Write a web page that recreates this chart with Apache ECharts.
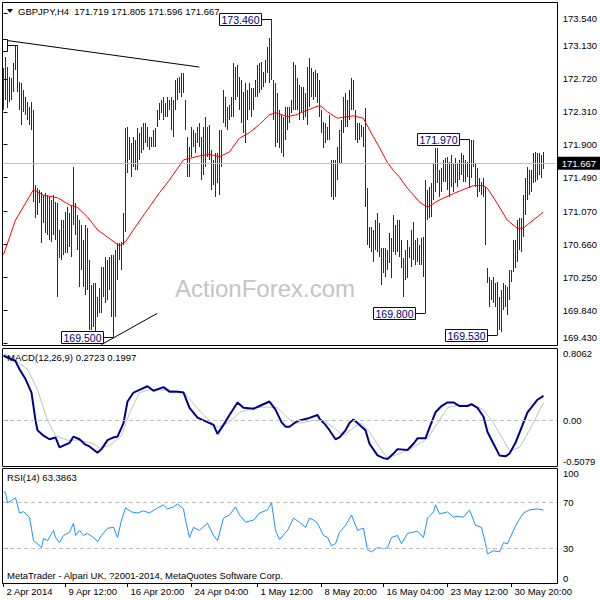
<!DOCTYPE html>
<html><head><meta charset="utf-8">
<script src="https://cdn.jsdelivr.net/npm/echarts@6/dist/echarts.min.js"></script>
<style>html,body{margin:0;padding:0;background:#fff}#c{width:600px;height:600px}</style>
</head><body><div id="c"></div>
<script>
const symbol = 'GBPJPY,H4';
const quote = [171.719, 171.805, 171.596, 171.667];
const lastPrice = 171.667;
const macdNow = [0.2723, 0.1997];
const rsiNow = 63.3863;

const highs = [
172.86,172.99,172.87,172.74,172.73,172.92,173.14,173.14,172.68,172.67,
172.58,172.49,172.43,172.37,172.43,172.33,171.40,171.36,171.34,171.31,
171.27,171.30,171.27,171.25,171.21,171.27,171.19,171.17,170.84,170.96,
170.96,171.06,171.12,171.05,171.15,171.62,171.17,171.02,170.96,170.90,
170.71,170.90,170.86,170.46,170.15,170.18,170.18,170.00,170.11,170.38,
170.38,170.50,170.46,170.50,170.53,170.53,170.59,170.67,170.67,170.69,
171.05,172.11,172.12,172.00,171.92,172.00,171.96,172.11,172.05,172.12,
172.17,172.17,172.12,172.00,172.00,172.08,172.11,172.33,172.42,172.46,
172.49,172.42,172.49,172.46,172.49,172.46,172.71,172.73,172.74,172.79,
172.79,172.46,172.00,171.87,172.12,172.08,172.05,172.12,172.17,172.00,
172.12,172.25,172.12,172.15,171.83,171.71,171.80,171.80,172.08,172.08,
172.58,172.49,172.37,172.39,172.49,172.92,172.87,172.89,172.74,172.71,
172.56,172.67,172.58,172.67,172.61,172.61,172.71,172.89,172.92,172.93,
172.81,172.95,173.12,173.23,173.46,172.71,172.67,172.54,172.33,172.27,
172.25,172.37,172.37,172.37,172.46,172.93,172.89,172.73,172.64,172.62,
172.62,172.54,172.87,172.98,172.86,172.81,172.83,172.79,172.71,172.33,
172.18,172.17,172.12,172.27,171.71,171.71,171.71,171.87,172.08,172.21,
172.49,172.54,172.46,172.58,172.73,172.71,172.33,172.17,172.17,172.15,
172.12,172.36,171.36,170.87,170.87,170.84,170.96,171.05,170.92,170.61,
170.61,170.61,170.59,170.80,170.74,171.02,170.90,170.96,170.96,170.71,
170.49,170.59,170.71,170.63,170.84,170.94,170.71,170.74,170.65,170.74,
170.75,171.46,171.34,171.37,171.42,171.67,171.86,171.86,171.58,171.61,
171.71,171.73,171.75,171.68,171.77,171.67,171.73,171.67,171.71,171.80,
171.77,171.71,171.68,171.97,171.96,171.96,171.67,171.61,171.49,171.44,
171.49,171.37,170.37,170.25,170.22,170.25,170.18,170.19,170.00,170.09,
170.18,170.15,170.13,170.34,170.34,170.71,170.71,170.96,170.99,170.99,
171.27,171.49,171.62,171.58,171.58,171.80,171.81,171.80,171.80,171.77,171.805
];
const lows = [
172.33,172.46,172.36,172.43,172.46,172.56,172.83,172.56,172.33,172.15,
172.31,172.27,172.21,172.15,172.08,171.19,170.99,171.02,171.17,170.67,
170.92,170.80,170.78,170.71,170.69,170.78,170.71,170.00,170.49,170.46,
170.53,170.55,170.55,170.63,170.50,170.90,170.78,170.59,170.13,170.34,
170.13,170.03,170.09,169.59,169.59,169.63,169.55,169.75,169.80,169.80,
170.00,169.93,169.97,170.09,169.75,169.50,169.75,170.22,170.46,170.34,
170.65,170.81,171.55,171.71,171.50,171.62,171.58,171.58,171.71,171.80,
171.83,171.92,171.87,171.83,171.87,171.87,171.87,172.12,172.21,172.30,
172.21,172.25,172.25,172.33,172.08,172.00,172.33,172.46,172.54,172.49,
172.54,172.08,171.50,171.50,171.75,171.87,171.80,171.92,171.87,171.46,
171.52,171.62,171.75,171.71,171.34,171.40,171.25,171.42,171.27,171.62,
172.17,172.12,172.08,172.21,172.25,172.25,172.46,172.49,172.33,172.17,
172.05,171.92,172.21,172.33,172.25,172.33,172.49,172.49,172.54,172.58,
172.62,172.67,172.79,172.67,172.71,172.21,171.87,171.92,171.86,171.80,
171.75,171.96,172.08,172.17,172.30,172.33,172.33,172.33,172.21,172.30,
172.21,172.25,172.15,172.37,172.49,172.46,172.49,172.42,172.25,172.05,
171.86,171.92,171.96,171.96,171.25,171.21,171.25,171.46,171.67,171.67,
172.05,172.12,172.12,172.21,172.33,172.33,171.96,171.92,171.96,172.00,
171.87,171.12,170.65,170.61,170.56,170.44,170.59,170.56,170.50,170.15,
170.30,170.25,170.34,170.43,170.24,170.56,170.53,170.56,170.50,170.37,
170.00,170.22,170.24,170.49,170.38,170.46,170.40,170.44,170.40,170.40,
170.25,169.80,170.96,170.99,171.00,171.21,171.31,171.42,171.25,171.31,
171.44,171.44,171.34,171.25,171.37,171.31,171.42,171.37,171.46,171.52,
171.44,171.44,171.50,171.36,171.49,171.62,171.37,171.25,171.31,171.27,
171.25,170.65,170.18,169.88,169.97,169.93,169.88,169.53,169.59,169.57,
169.84,169.88,169.78,169.97,170.19,170.32,170.37,170.44,170.59,170.56,
170.75,171.02,171.21,171.27,171.31,171.42,171.44,171.46,171.52,171.49,171.596
];

const maPts = [[0,170.53],[6,170.96],[15,171.34],[20,171.27],[27,171.24],[33,171.15],[37,171.12],[42,171.00],[47,170.84],[52,170.75],[58,170.64],[61,170.69],[65,170.84],[72,171.09],[78,171.30],[83,171.46],[90,171.71],[98,171.76],[103,171.78],[108,171.75],[113,171.81],[118,171.98],[123,172.05],[128,172.15],[133,172.27],[136,172.30],[142,172.25],[146,172.27],[152,172.33],[157,172.38],[159,172.38],[162,172.31],[167,172.23],[172,172.25],[175,172.26],[180,172.23],[185,172.00],[188,171.87],[192,171.68],[195,171.58],[198,171.50],[202,171.36],[208,171.19],[212,171.12],[218,171.21],[225,171.29],[235,171.39],[240,171.39],[242,171.36],[247,171.17],[252,170.96],[257,170.86],[260,170.86],[265,170.96],[270,171.06]];

const macdPts = [[0,0.72],[2,0.70],[6,0.66],[8,0.57],[11,0.46],[14,0.31],[16,0.00],[17,-0.11],[20,-0.17],[23,-0.21],[26,-0.19],[28,-0.30],[31,-0.27],[33,-0.25],[35,-0.18],[38,-0.21],[41,-0.27],[43,-0.29],[47,-0.36],[49,-0.32],[52,-0.22],[55,-0.19],[57,-0.18],[60,-0.03],[62,0.21],[65,0.31],[68,0.34],[72,0.38],[75,0.33],[80,0.37],[83,0.32],[87,0.32],[90,0.31],[93,0.14],[97,0.03],[100,0.00],[105,-0.05],[107,-0.15],[110,-0.05],[113,0.06],[117,0.20],[120,0.14],[125,0.13],[128,0.16],[133,0.21],[136,0.12],[139,-0.02],[141,-0.07],[143,-0.07],[146,-0.02],[148,0.00],[152,0.02],[157,0.06],[158,0.02],[161,-0.05],[163,-0.11],[166,-0.21],[168,-0.19],[171,-0.11],[173,-0.03],[175,0.01],[177,-0.03],[181,-0.11],[183,-0.26],[187,-0.39],[190,-0.42],[192,-0.43],[195,-0.37],[197,-0.32],[202,-0.33],[205,-0.26],[207,-0.20],[211,-0.20],[213,-0.08],[216,0.09],[219,0.16],[222,0.20],[225,0.20],[228,0.16],[232,0.16],[234,0.18],[237,0.14],[240,0.04],[242,-0.13],[245,-0.26],[248,-0.39],[251,-0.40],[253,-0.37],[256,-0.25],[259,-0.08],[262,0.09],[267,0.23],[270,0.2723]];

const signalPts = [[0,0.74],[3,0.72],[12,0.57],[17,0.34],[22,0.00],[26,-0.17],[32,-0.22],[38,-0.22],[45,-0.26],[48,-0.31],[53,-0.28],[59,-0.17],[63,0.08],[68,0.31],[73,0.34],[82,0.34],[90,0.32],[94,0.21],[100,0.06],[107,-0.08],[113,-0.02],[118,0.09],[125,0.14],[132,0.15],[137,0.14],[142,0.03],[145,-0.03],[148,-0.03],[155,0.00],[160,0.00],[165,-0.08],[170,-0.17],[175,-0.08],[179,-0.03],[183,-0.13],[188,-0.30],[192,-0.42],[198,-0.37],[205,-0.30],[212,-0.20],[217,-0.03],[222,0.14],[227,0.17],[235,0.17],[240,0.12],[245,-0.03],[250,-0.22],[253,-0.34],[258,-0.30],[263,-0.11],[270,0.1997]];

const rsiPts = [[0,79.6],[1,78.7],[2,69.8],[4,71.6],[6,74.2],[8,60.9],[10,62.0],[13,57.3],[15,36.9],[17,34.2],[19,30.7],[20,38.7],[22,36.9],[25,45.8],[26,39.6],[28,35.1],[30,41.3],[33,44.0],[35,52.0],[36,41.3],[38,45.8],[40,41.3],[42,43.1],[45,39.6],[47,36.0],[49,41.3],[52,47.6],[55,48.4],[57,39.6],[59,54.7],[61,65.3],[64,61.8],[67,60.9],[70,62.7],[73,60.9],[77,65.3],[80,68.0],[82,64.4],[85,66.2],[87,68.9],[90,64.4],[91,54.7],[93,39.6],[95,48.4],[98,45.8],[102,52.0],[105,41.3],[107,36.9],[110,56.4],[113,59.1],[116,66.2],[118,59.1],[121,52.9],[125,54.7],[128,60.9],[132,63.6],[134,69.8],[136,45.8],[138,37.8],[142,45.8],[145,56.4],[148,52.9],[151,48.4],[153,56.4],[155,54.7],[157,52.0],[160,41.3],[162,39.6],[164,32.4],[166,34.2],[168,44.0],[171,50.2],[174,59.1],[175,54.7],[177,45.8],[180,47.6],[182,28.9],[184,27.1],[187,30.7],[190,29.8],[192,30.7],[194,39.6],[197,41.3],[199,34.2],[202,43.1],[204,44.0],[207,45.0],[210,39.6],[212,56.4],[215,61.8],[216,68.0],[218,60.0],[222,61.8],[225,57.3],[227,58.0],[230,57.3],[233,63.6],[236,50.2],[239,48.4],[241,34.2],[242,25.3],[245,28.0],[248,27.1],[250,35.1],[252,34.0],[255,45.8],[257,52.9],[260,60.9],[263,63.6],[267,64.4],[270,63.3863]];

const priceTicks = [169.430,169.840,170.250,170.660,171.070,171.490,171.900,172.310,172.720,173.130,173.540];
const macdTicks = [-0.5079, 0, 0.8062];
const rsiTicks = [0, 30, 70, 100];
const rsiLevels = [30, 70];
const dateTickBars = [0,31,62,94,127,159,190,222,254];
const dateTickLabels = ['2 Apr 2014','9 Apr 12:00','16 Apr 20:00','24 Apr 04:00','1 May 12:00','8 May 20:00','16 May 04:00','23 May 12:00','30 May 20:00'];
const swingBars = [7, 55, 134, 211, 233, 247];
const swingPrices = [173.14, 169.50, 173.46, 169.80, 171.97, 169.53];
const swingLabels = ['','169.500','173.460','169.800','171.970','169.530'];
const trendUpper = [[0,173.204],[98,172.867]];
const trendLower = [[49,169.41],[77,169.80]];

const F = 'Liberation Sans';
const FS = 9.5;
const chart = echarts.init(document.getElementById('c'), null, {renderer: 'svg'});

const xAx = k => ({
  type: 'value', gridIndex: k, min: -0.25, max: 276.75,
  axisLine: {show: false}, splitLine: {show: false},
  axisTick: {show: k === 2, customValues: dateTickBars, length: 4, lineStyle: {color: '#000'}},
  axisLabel: {show: k === 2, customValues: dateTickBars, interval: 0, align: 'left', margin: 3,
    padding: [0,0,0,3], color: '#000', fontFamily: F, fontSize: FS,
    formatter: v => { const j = dateTickBars.indexOf(Math.round(v)); return j >= 0 ? dateTickLabels[j] : ''; }}
});
const yAx = (k, min, max, ticks, fmt) => ({
  type: 'value', gridIndex: k, position: 'right', min: min, max: max,
  axisLine: {show: false}, splitLine: {show: false},
  axisTick: {show: true, customValues: ticks, length: 4, lineStyle: {color: '#000'}},
  axisLabel: {customValues: ticks, margin: 6, color: '#000', fontFamily: F, fontSize: FS,
    formatter: fmt, verticalAlignMaxLabel: 'top', verticalAlignMinLabel: 'bottom'}
});
const dashed = (k, vals) => ({
  type: 'line', xAxisIndex: k, yAxisIndex: k, data: [], silent: true,
  markLine: {silent: true, symbol: ['none','none'], animation: false, label: {show: false},
    lineStyle: {color: '#c0c0c0', type: [4, 3], width: 1},
    data: vals.map(v => ({yAxis: v}))}
});

chart.setOption({
  animation: false,
  backgroundColor: '#fff',
  grid: [
    {left: 3, top: 3, width: 554, height: 342},
    {left: 3, top: 348, width: 554, height: 118},
    {left: 3, top: 468, width: 554, height: 115}
  ],
  xAxis: [xAx(0), xAx(1), xAx(2)],
  yAxis: [
    yAx(0, 169.405, 173.665, priceTicks, v => v.toFixed(3)),
    yAx(1, -0.5079, 0.8062, macdTicks, v => Math.abs(v) < 1e-9 ? '0.00' : v.toFixed(4)),
    yAx(2, 0, 100, rsiTicks, v => String(v))
  ],
  series: [
    {
      type: 'line', xAxisIndex: 0, yAxisIndex: 0, data: [], silent: true, z: 1,
      markLine: {silent: true, symbol: ['none','none'], animation: false,
        lineStyle: {color: '#c0c0c0', type: 'solid', width: 1},
        label: {show: true, position: 'end', distance: 1, formatter: lastPrice.toFixed(3),
          backgroundColor: '#000', color: '#fff', padding: [2,4,1,4], fontFamily: F, fontSize: FS},
        data: [{yAxis: lastPrice}]}
    },
    {
      type: 'custom', xAxisIndex: 0, yAxisIndex: 0, z: 2, silent: true, clip: true,
      data: highs.map((h, i) => [i, h, lows[i]]),
      encode: {x: 0, y: [1, 2]},
      renderItem: (p, api) => {
        const a = api.coord([api.value(0), api.value(1)]);
        const b = api.coord([api.value(0), api.value(2)]);
        const x = Math.floor(a[0]) + 0.5;
        return {type: 'line', shape: {x1: x, y1: Math.round(a[1]), x2: x, y2: Math.round(b[1])},
          style: {stroke: '#0e3552', lineWidth: 1}};
      }
    },
    {type: 'line', xAxisIndex: 0, yAxisIndex: 0, data: maPts, symbol: 'none', z: 3,
      lineStyle: {color: '#ff0000', width: 1}},
    {type: 'line', xAxisIndex: 0, yAxisIndex: 0, data: trendUpper, symbol: 'none', z: 3,
      lineStyle: {color: '#000', width: 1}},
    {type: 'line', xAxisIndex: 0, yAxisIndex: 0, data: trendLower, symbol: 'none', z: 3,
      lineStyle: {color: '#000', width: 1}},
    {
      type: 'custom', xAxisIndex: 0, yAxisIndex: 0, z: 4, silent: true, clip: true,
      data: swingBars.map((b, i) => [b, swingPrices[i]]),
      renderItem: (p, api) => {
        const c = api.coord([api.value(0), api.value(1)]);
        const y = Math.round(c[1]) + 0.5, x = Math.floor(c[0]) + 0.5;
        return {type: 'group', children: [
          {type: 'line', shape: {x1: x - 10, y1: y, x2: x, y2: y}, style: {stroke: '#000080', lineWidth: 1}},
          {type: 'rect', shape: {x: x - 52, y: y - 6, width: 42, height: 12}, style: {fill: '#fff', stroke: '#000080', lineWidth: 1}},
          {type: 'text', style: {text: swingLabels[p.dataIndex], x: x - 31, y: y + 0.5, align: 'center', verticalAlign: 'middle',
            fill: '#000080', fontFamily: F, fontSize: 10.5}}
        ]};
      }
    },
    dashed(1, [0]),
    {type: 'line', xAxisIndex: 1, yAxisIndex: 1, data: signalPts, symbol: 'none', z: 3,
      lineStyle: {color: '#c0c0c0', width: 1}},
    {type: 'line', xAxisIndex: 1, yAxisIndex: 1, data: macdPts, symbol: 'none', z: 4,
      lineStyle: {color: '#00008b', width: 2}},
    dashed(2, rsiLevels),
    {type: 'line', xAxisIndex: 2, yAxisIndex: 2, data: rsiPts, symbol: 'none', z: 3,
      lineStyle: {color: '#1e90ff', width: 1}}
  ],
  graphic: [
    {type: 'text', x: 175, y: 276, z: 0, silent: true,
      style: {text: 'ActionForex.com', fill: '#c4c4c4', fontFamily: F, fontSize: 24}},
    {type: 'rect', shape: {x: 2.5, y: 2.5, width: 555, height: 343}, style: {fill: 'none', stroke: '#000', lineWidth: 1}, z: 100, silent: true},
    {type: 'rect', shape: {x: 2.5, y: 348.5, width: 555, height: 118}, style: {fill: 'none', stroke: '#000', lineWidth: 1}, z: 100, silent: true},
    {type: 'rect', shape: {x: 2.5, y: 468.5, width: 555, height: 115}, style: {fill: 'none', stroke: '#000', lineWidth: 1}, z: 100, silent: true},
    {type: 'polygon', shape: {points: [[7,9],[13,9],[10,13]]}, style: {fill: '#000'}, z: 100, silent: true},
    {type: 'text', x: 18, y: 6, z: 100, silent: true,
      style: {text: symbol + '  ' + quote.map(q => q.toFixed(3)).join(' '), fill: '#000', fontFamily: F, fontSize: FS}},
    {type: 'text', x: 7, y: 352, z: 100, silent: true,
      style: {text: 'MACD(12,26,9) ' + macdNow.map(v => v.toFixed(4)).join(' '), fill: '#000', fontFamily: F, fontSize: FS}},
    {type: 'text', x: 7, y: 472, z: 100, silent: true,
      style: {text: 'RSI(14) ' + rsiNow.toFixed(4), fill: '#000', fontFamily: F, fontSize: FS}},
    {type: 'text', x: 7, y: 570, z: 100, silent: true,
      style: {text: 'MetaTrader - Alpari UK, ?2001-2014, MetaQuotes Software Corp.', fill: '#000', fontFamily: F, fontSize: FS}}
  ]
});
</script>
</body></html>
